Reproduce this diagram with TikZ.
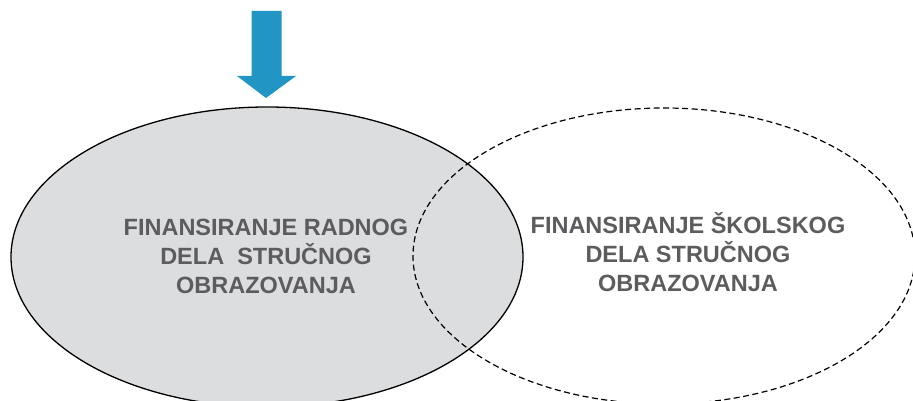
\documentclass[tikz,border=0pt]{standalone}
\usepackage{fontspec}
\setmainfont{Liberation Sans}[BoldFont={Liberation Sans Bold}]
\usetikzlibrary{shapes.geometric}
\definecolor{arrowblue}{RGB}{33,150,196}
\definecolor{fillgray}{RGB}{220,221,223}
\definecolor{textgray}{RGB}{92,92,94}
\tikzset{
  setshape/.style={ellipse, inner sep=0pt, line width=1.3pt},
  settext/.style={align=center, text=textgray, font=\fontsize{23.5}{29}\selectfont\bfseries, inner sep=0pt}
}
\begin{document}
\begin{tikzpicture}[x=1pt,y=-1pt]
\useasboundingbox (0,0) rectangle (913,401);
\node[setshape, draw=black, fill=fillgray, minimum width=512pt, minimum height=300pt] (work) at (267,257) {};
\node[setshape, draw=black, dash pattern=on 6pt off 3.5pt, line width=1.2pt, minimum width=502pt, minimum height=296pt] (school) at (664,256) {};
\node[settext] (worktext) at (266,256) {FINANSIRANJE RADNOG\\DELA\ \ STRUČNOG\\OBRAZOVANJA};
\node[settext] (schooltext) at (688,252) {FINANSIRANJE ŠKOLSKOG\\DELA STRUČNOG\\OBRAZOVANJA};
\fill[arrowblue] (251.5,11) -- (281.5,11) -- (281.5,76) -- (296,76) -- (266,98) -- (237,76) -- (251.5,76) -- cycle;
\end{tikzpicture}
\end{document}
